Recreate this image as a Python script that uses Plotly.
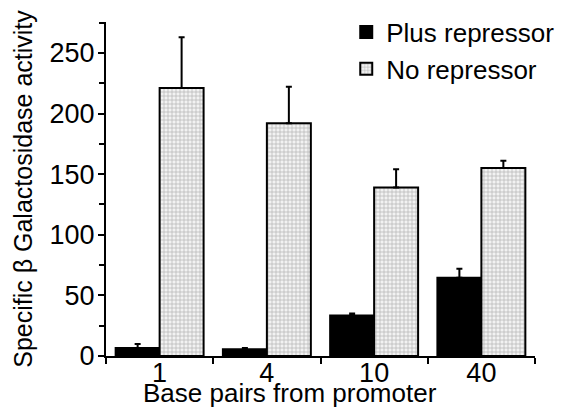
import plotly.graph_objects as go

categories = ["1", "4", "10", "40"]
plus_repressor = [6.5, 5.5, 33.5, 64.5]
plus_repressor_err = [3.5, 1.0, 1.5, 7.5]
no_repressor = [221, 192, 139, 155]
no_repressor_err = [42, 30, 15, 6]
y_ticks = [0, 50, 100, 150, 200, 250]

FONT = "Liberation Sans, Arial, sans-serif"

fig = go.Figure()
fig.add_trace(go.Bar(
    x=categories, y=plus_repressor, name="Plus repressor",
    marker=dict(color="black", line=dict(color="black", width=2)),
    error_y=dict(type="data", symmetric=False, array=plus_repressor_err,
                 arrayminus=[0] * len(categories), color="black",
                 thickness=2, width=3),
))
fig.add_trace(go.Bar(
    x=categories, y=no_repressor, name="No repressor",
    marker=dict(color="#f0f0f0", line=dict(color="black", width=2),
                pattern=dict(shape="+", size=4, solidity=0.3,
                             fgcolor="#6a6a6a", bgcolor="#f2f2f2")),
    error_y=dict(type="data", symmetric=False, array=no_repressor_err,
                 arrayminus=[0] * len(categories), color="black",
                 thickness=2, width=3),
))

fig.update_layout(
    width=572, height=415,
    margin=dict(l=98, r=45, t=14, b=67, autoexpand=False),
    paper_bgcolor="white", plot_bgcolor="white",
    font=dict(family=FONT, size=26, color="black"),
    barmode="group", bargap=0.18, bargroupgap=0,
    showlegend=True,
    legend=dict(x=0.56, y=1.04, xanchor="left", yanchor="top",
                bgcolor="rgba(0,0,0,0)", font=dict(size=26),
                itemwidth=30, tracegroupgap=0),
    xaxis=dict(
        type="category", showline=True, linecolor="black", linewidth=2,
        ticks="outside", tickson="boundaries", ticklen=6, tickwidth=2,
        tickcolor="black", tickfont=dict(size=27), showgrid=False,
        zeroline=False, range=[-0.5, 3.5], automargin=False,
        ticklabelstandoff=-8,
    ),
    yaxis=dict(
        range=[0, 275.5], tickvals=y_ticks, showline=True, linecolor="black",
        linewidth=2, ticks="outside", ticklen=6, tickwidth=2, tickcolor="black",
        tickfont=dict(size=27), showgrid=False, zeroline=False, automargin=False,
        ticklabelstandoff=-2,
        minor=dict(dtick=25, tick0=0, ticks="outside", ticklen=5, tickwidth=2,
                   tickcolor="black", showgrid=False),
        title=dict(text="Specific β Galactosidase activity",
                   font=dict(size=25), standoff=10),
    ),
    annotations=[dict(
        text="Base pairs from promoter", xref="paper", yref="paper",
        x=0.429, y=-0.11, xanchor="center", yanchor="middle", showarrow=False,
        font=dict(size=26),
    )],
)

fig.write_html("out.html")
